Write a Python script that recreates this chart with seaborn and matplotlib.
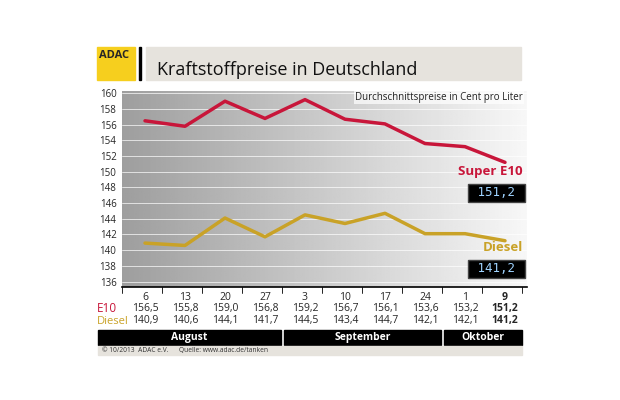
import numpy as np
import pandas as pd
import matplotlib
matplotlib.use("Agg")
import matplotlib.pyplot as plt
import seaborn as sns
from matplotlib.patches import Rectangle

days = ["6", "13", "20", "27", "3", "10", "17", "24", "1", "9"]
e10 = [156.5, 155.8, 159.0, 156.8, 159.2, 156.7, 156.1, 153.6, 153.2, 151.2]
diesel = [140.9, 140.6, 144.1, 141.7, 144.5, 143.4, 144.7, 142.1, 142.1, 141.2]
yticks = list(range(136, 161, 2))
months = ["August", "September", "Oktober"]

sns.set_style("white")
plt.rcParams["font.family"] = ["Open Sans", "DejaVu Sans"]
RED = "#c8163a"
GOLD = "#c9a227"
W, H = 620, 400
fig = plt.figure(figsize=(6.2, 4.0), dpi=100)

def fx(px): return px / W
def fy(py): return 1 - py / H

# header
fig.patches.append(Rectangle((fx(97), fy(80)), fx(38), 33 / H, color="#f6cf1e", transform=fig.transFigure))
fig.text(fx(99), fy(50), "ADAC", fontsize=8, fontweight="bold", va="top", ha="left")
fig.patches.append(Rectangle((fx(139), fy(80)), fx(2), 33 / H, color="black", transform=fig.transFigure))
fig.patches.append(Rectangle((fx(146), fy(80)), fx(375), 33 / H, color="#e6e3dd", transform=fig.transFigure))
fig.text(fx(157), fy(70), "Kraftstoffpreise in Deutschland", fontsize=13, va="center", ha="left", color="#111")

ax = fig.add_axes([fx(122), fy(287), fx(405), 196 / H])
df = pd.DataFrame({"i": np.arange(len(days)), "E10": e10, "Diesel": diesel})
xl = (-0.575, 9.55)
yl = (135.3, 160.3)
grad = np.linspace(0.62, 0.97, 256)[None, :]
ax.imshow(grad, extent=(xl[0], xl[1], yl[0], yl[1]), aspect="auto", cmap="gray", vmin=0, vmax=1, zorder=0)
for t in yticks:
    ax.axhline(t, color="white", lw=0.6, alpha=0.8, zorder=1)
sns.lineplot(data=df, x="i", y="E10", color=RED, lw=2.5, ax=ax, zorder=3)
sns.lineplot(data=df, x="i", y="Diesel", color=GOLD, lw=2.5, ax=ax, zorder=3)
ax.set_xlim(*xl); ax.set_ylim(*yl)
ax.set_xticks([]); ax.set_xlabel(""); ax.set_ylabel("")
ax.set_yticks(yticks)
ax.set_yticklabels([str(t) for t in yticks], fontsize=7)
ax.yaxis.set_ticks_position("left")
ax.tick_params(axis="y", length=0, pad=4)
for s in ["top", "right", "left"]:
    ax.spines[s].set_visible(False)
ax.spines["bottom"].set_color("black"); ax.spines["bottom"].set_linewidth(1.2)
ax.text(0.99, 0.995, "Durchschnittspreise in Cent pro Liter", transform=ax.transAxes,
        ha="right", va="top", fontsize=7, color="#222",
        bbox=dict(facecolor="white", edgecolor="none", alpha=0.7, pad=1))
ax.text(9.45, 150.0, "Super E10", color=RED, fontsize=9.5, fontweight="bold", ha="right", va="center")
ax.text(9.45, 147.3, " 151,2 ", color="#9fd3ff", fontsize=9, ha="right", va="center",
        family="DejaVu Sans Mono", bbox=dict(facecolor="black", edgecolor="#444", pad=1.5))
ax.text(9.45, 140.3, "Diesel", color=GOLD, fontsize=9.5, fontweight="bold", ha="right", va="center")
ax.text(9.45, 137.6, " 141,2 ", color="#9fd3ff", fontsize=9, ha="right", va="center",
        family="DejaVu Sans Mono", bbox=dict(facecolor="black", edgecolor="#444", pad=1.5))

# table
for k in range(len(days) + 1):
    x = 122 + 40 * k if k < len(days) else 522
    fig.lines.append(plt.Line2D([fx(x), fx(x)], [fy(287), fy(293)], color="black", lw=0.6, transform=fig.transFigure))
for k, d in enumerate(days):
    cx = fx(145 + 40 * k)
    bold = "bold" if k == len(days) - 1 else "normal"
    fig.text(cx, fy(297), d, fontsize=7.5, ha="center", va="center", fontweight=bold)
    fig.text(cx, fy(309), f"{e10[k]:.1f}".replace(".", ","), fontsize=7.5, ha="center", va="center", fontweight=bold)
    fig.text(cx, fy(321), f"{diesel[k]:.1f}".replace(".", ","), fontsize=7.5, ha="center", va="center", fontweight=bold)
fig.text(fx(97), fy(308), "E10", color=RED, fontsize=8.5, ha="left", va="center")
fig.text(fx(97), fy(321), "Diesel", color=GOLD, fontsize=8, ha="left", va="center")
for (x0, x1), m in zip([(98, 281), (284, 441), (444, 522)], months):
    fig.patches.append(Rectangle((fx(x0), fy(345)), fx(x1 - x0), 15 / H, color="black", transform=fig.transFigure))
    fig.text(fx((x0 + x1) / 2), fy(337.5), m, color="white", fontsize=7.5, fontweight="bold", ha="center", va="center")
fig.patches.append(Rectangle((fx(98), fy(355)), fx(424), 9 / H, color="#e6e3dd", transform=fig.transFigure))
fig.text(fx(102), fy(350.5), "© 10/2013  ADAC e.V.      Quelle: www.adac.de/tanken", fontsize=4.8, ha="left", va="center", color="#333")

fig.savefig("out.png", dpi=100, facecolor="white")
